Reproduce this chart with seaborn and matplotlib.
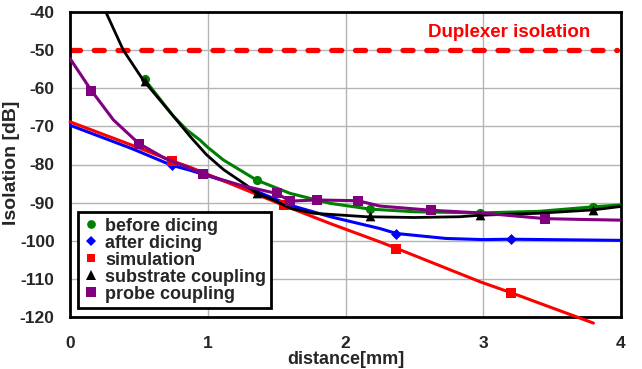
import matplotlib
matplotlib.use("Agg")
import matplotlib.pyplot as plt
from matplotlib.lines import Line2D
import seaborn as sns
import pandas as pd

# ---------------- data ----------------
duplexer_x = [0.0, 3.97]
duplexer_y = [-50.0, -50.0]

before_line_x = [0.544, 0.75, 0.85, 0.944, 1.0, 1.113, 1.355, 1.6, 1.89, 2.18, 2.5, 2.98, 3.4, 3.8, 4.0]
before_line_y = [-57.8, -67.3, -71.0, -73.6, -75.5, -78.8, -84.1, -87.6, -90.2, -91.7, -92.4, -92.7, -92.3, -91.1, -90.6]
before_pts_x = [0.544, 1.355, 2.18, 2.98, 3.8]
before_pts_y = [-57.6, -84.1, -91.7, -92.7, -91.1]

after_line_x = [0.0, 0.447, 0.738, 0.871, 1.33, 1.6, 1.89, 2.25, 2.37, 2.73, 3.0, 3.2, 4.0]
after_line_y = [-69.7, -75.8, -80.2, -81.5, -86.7, -90.7, -93.7, -96.8, -98.1, -99.4, -99.7, -99.6, -99.9]
after_pts_x = [0.738, 2.37, 3.2]
after_pts_y = [-80.2, -98.1, -99.6]

sim_line_x = [0.0, 0.447, 0.738, 0.871, 1.55, 1.89, 2.25, 2.37, 2.98, 3.2, 3.8]
sim_line_y = [-68.8, -74.9, -79.0, -80.7, -90.7, -95.5, -100.3, -102.0, -110.8, -113.6, -121.6]
sim_pts_x = [0.738, 1.55, 2.37, 3.2]
sim_pts_y = [-79.0, -90.7, -102.1, -113.6]

sub_line_x = [0.22, 0.26, 0.387, 0.53, 0.75, 0.871, 0.99, 1.113, 1.28, 1.355, 1.476, 1.6, 1.77, 2.15, 2.5, 2.83, 2.98, 3.4, 3.8, 4.0]
sub_line_y = [-36.5, -40.0, -50.0, -57.8, -67.3, -72.6, -77.4, -81.3, -85.4, -87.6, -89.3, -91.5, -92.8, -93.7, -93.9, -93.7, -93.3, -92.8, -91.9, -91.0]
sub_pts_x = [0.544, 1.355, 2.18, 2.98, 3.8]
sub_pts_y = [-58.0, -87.6, -93.4, -93.3, -91.9]

probe_line_x = [0.0, 0.155, 0.315, 0.5, 0.69, 0.871, 0.968, 1.234, 1.5, 1.6, 1.79, 2.09, 2.25, 2.62, 2.98, 3.45, 3.7, 4.0]
probe_line_y = [-52.2, -60.6, -68.3, -74.5, -78.4, -81.0, -82.5, -85.4, -87.6, -89.6, -89.3, -89.5, -90.9, -92.0, -92.7, -94.2, -94.4, -94.6]
probe_pts_x = [0.155, 0.5, 0.968, 1.5, 1.6, 1.79, 2.09, 2.62, 3.45]
probe_pts_y = [-60.6, -74.5, -82.5, -87.6, -89.6, -89.3, -89.5, -92.0, -94.2]

x_ticks = [0, 1, 2, 3, 4]
y_ticks = [-120, -110, -100, -90, -80, -70, -60, -50, -40]

series = [
    ("before dicing", "#008000", "o", 6.6, before_line_x, before_line_y, before_pts_x, before_pts_y, 2.2),
    ("after dicing", "#0000FF", "D", 5.6, after_line_x, after_line_y, after_pts_x, after_pts_y, 2.2),
    ("simulation", "#FF0000", "s", 6.6, sim_line_x, sim_line_y, sim_pts_x, sim_pts_y, 2.2),
    ("substrate coupling", "#000000", "^", 7.0, sub_line_x, sub_line_y, sub_pts_x, sub_pts_y, 2.0),
    ("probe coupling", "#800080", "s", 7.0, probe_line_x, probe_line_y, probe_pts_x, probe_pts_y, 2.2),
]

# ---------------- style ----------------
sns.set_style("white")
plt.rcParams["font.family"] = ["Liberation Sans", "DejaVu Sans"]
plt.rcParams["font.weight"] = "bold"
plt.rcParams["axes.unicode_minus"] = False

fig = plt.figure(figsize=(6.42, 3.69), dpi=100)
ax = fig.add_axes([70 / 642, 1 - 317 / 369, 551 / 642, 305 / 369])

ax.set_xlim(0, 4)
ax.set_ylim(-120, -40)
ax.set_xticks(x_ticks)
ax.set_yticks(y_ticks)
ax.grid(True, color="#b4b4b4", linewidth=1.0, zorder=0)
ax.set_axisbelow(True)

# duplexer isolation
sns.lineplot(x=duplexer_x, y=duplexer_y, ax=ax, color="#FF0000", linewidth=3.8,
             linestyle=(0, (1.9, 2.6)), zorder=2, legend=False)
ax.lines[-1].set_dash_capstyle("round")
ax.text(2.6, -45.3, "Duplexer isolation", color="#FF0000", fontsize=13.5,
        fontweight="bold", va="center", ha="left")

handles = []
z = 3
for name, col, mk, ms, lx, ly, px, py, lw in series:
    df_l = pd.DataFrame({"x": lx, "y": ly})
    sns.lineplot(data=df_l, x="x", y="y", ax=ax, color=col, linewidth=lw,
                 sort=False, estimator=None, legend=False, zorder=z)
    if name == "simulation":
        ax.lines[-1].set_clip_on(False)
    df_p = pd.DataFrame({"x": px, "y": py})
    sns.scatterplot(data=df_p, x="x", y="y", ax=ax, color=col, marker=mk,
                    s=ms ** 2, linewidth=0, legend=False, zorder=z + 0.5)
    handles.append(Line2D([], [], linestyle="none", marker=mk, color=col,
                          markersize=ms * 0.95, markeredgewidth=0, label=name))
    z += 1

for s in ax.spines.values():
    s.set_visible(True)
    s.set_color("black")
    s.set_linewidth(2.0)

ax.tick_params(axis="both", length=0, labelsize=12.5)
ax.tick_params(axis="y", pad=11)
ax.tick_params(axis="x", pad=13.5)
for lab in ax.get_xticklabels() + ax.get_yticklabels():
    lab.set_fontweight("bold")

ax.set_xlabel("distance[mm]", fontsize=13, fontweight="bold")
ax.set_ylabel("Isolation [dB]", fontsize=14, fontweight="bold")
ax.xaxis.label.set_va("baseline")
ax.xaxis.set_label_coords(0.50, -0.154)
ax.yaxis.set_label_coords(-0.091, 0.505)

leg = ax.legend(handles=handles, loc="lower left", bbox_to_anchor=(0.0145, 0.0295),
                borderaxespad=0, frameon=True, fancybox=False,
                framealpha=1, edgecolor="black", handlelength=0.8,
                handletextpad=0.4, labelspacing=0.0, borderpad=0.3,
                prop={"weight": "bold", "size": 13})
leg.get_frame().set_linewidth(2.0)
leg.set_zorder(20)

fig.savefig("out.png", dpi=100)
